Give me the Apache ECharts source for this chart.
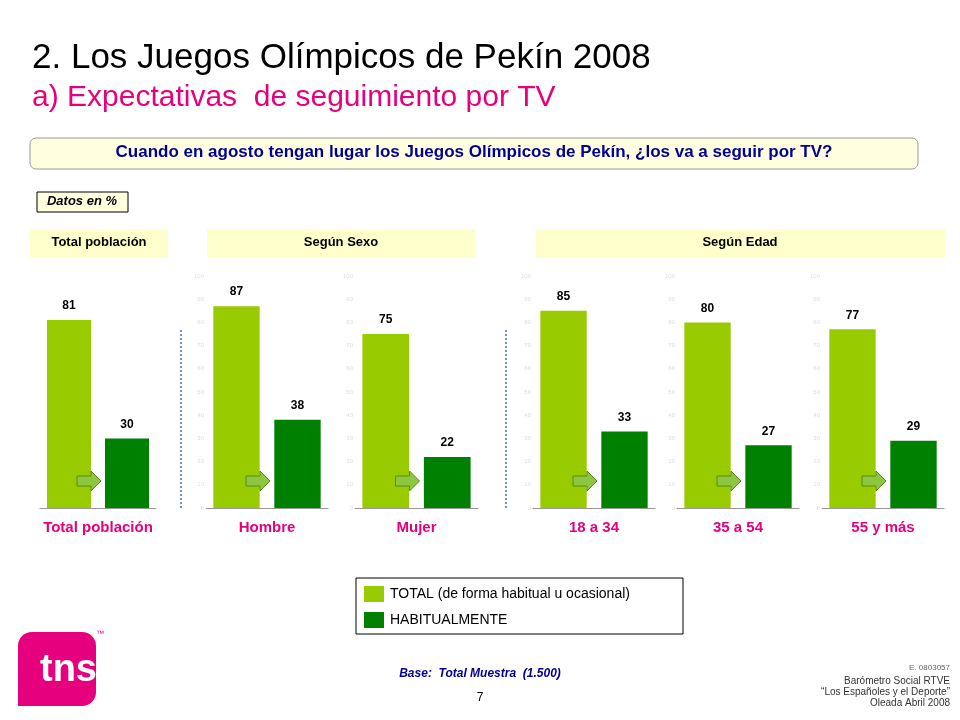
<!DOCTYPE html>
<html><head><meta charset="utf-8">
<script src="https://cdn.jsdelivr.net/npm/echarts@6/dist/echarts.min.js"></script>
<style>html,body{margin:0;background:#fff}#main{width:960px;height:720px}</style>
</head><body><div id="main"></div>
<script>
var groups = ['Total población', 'Hombre', 'Mujer', '18 a 34', '35 a 54', '55 y más'];
var totalValues = [81, 87, 75, 85, 80, 77];
var habitualValues = [30, 38, 22, 33, 27, 29];
var seriesNames = ['TOTAL (de forma habitual u ocasional)', 'HABITUALMENTE'];

var dom = document.getElementById('main');
var myChart = echarts.init(dom, null, { renderer: 'canvas' });

const colors = ['#99CC00', '#008000'];
const pink = '#E6007E';
var lefts = [40, 206, 355, 533, 677, 822];
var widths = [116, 122, 123, 122, 122, 122];

var grids = [], xAxes = [], yAxes = [], series = [], graphics = [];
groups.forEach(function (g, i) {
  grids.push({ left: lefts[i], width: widths[i], top: 276, height: 232 });
  xAxes.push({
    type: 'category', gridIndex: i, data: seriesNames,
    axisLine: { lineStyle: { color: '#999' } }, axisTick: { show: false }, axisLabel: { show: false }
  });
  yAxes.push({
    type: 'value', gridIndex: i, min: 0, max: 100, interval: 10,
    splitLine: { show: false }, axisLine: { show: false }, axisTick: { show: false },
    axisLabel: { show: i > 0, fontSize: 6, color: '#ddd', margin: 2 }
  });
  series.push({
    type: 'bar', xAxisIndex: i, yAxisIndex: i, barWidth: '76%',
    data: [
      { value: totalValues[i], itemStyle: { color: colors[0] } },
      { value: habitualValues[i], itemStyle: { color: colors[1] } }
    ],
    label: { show: true, position: 'top', fontSize: 12, fontWeight: 'bold', color: '#000', fontFamily: 'Arial', distance: 8 }
  });
  graphics.push({ type: 'text', x: lefts[i] + widths[i] / 2, y: 520,
    style: { text: g, align: 'center', fill: pink, font: 'bold 15px Arial' } });
  // arrow
  var ax = lefts[i] + widths[i] / 2 - 21, ay = 481;
  graphics.push({ type: 'polygon', z: 100, shape: { points: [[ax, ay - 5], [ax + 14, ay - 5], [ax + 14, ay - 10], [ax + 24, ay], [ax + 14, ay + 10], [ax + 14, ay + 5], [ax, ay + 5]] },
    style: { fill: '#8DC63F', stroke: '#5a8a20', lineWidth: 1 } });
});

graphics.push(
  { type: 'text', x: 32, y: 41, style: { text: '2. Los Juegos Olímpicos de Pekín 2008', fill: '#000', font: '35px Arial' } },
  { type: 'text', x: 32, y: 83, style: { text: 'a) Expectativas  de seguimiento por TV', fill: pink, font: '30px Arial' } },
  { type: 'rect', shape: { x: 30, y: 138, width: 888, height: 31, r: 6 }, style: { fill: '#FFFFE0', stroke: '#999', lineWidth: 1 } },
  { type: 'text', x: 474, y: 144, style: { text: 'Cuando en agosto tengan lugar los Juegos Olímpicos de Pekín, ¿los va a seguir por TV?', align: 'center', fill: '#000099', font: 'bold 17px Arial' } },
  { type: 'rect', shape: { x: 37, y: 192, width: 91, height: 20 }, style: { fill: '#FFFFE0', stroke: '#000', lineWidth: 1 } },
  { type: 'text', x: 82, y: 195, style: { text: 'Datos en %', align: 'center', fill: '#000', font: 'italic bold 13px Arial' } },
  { type: 'rect', shape: { x: 30, y: 229, width: 138, height: 29 }, style: { fill: '#FFFFCC' } },
  { type: 'text', x: 99, y: 236, style: { text: 'Total población', align: 'center', fill: '#000', font: 'bold 13px Arial' } },
  { type: 'rect', shape: { x: 207, y: 229, width: 268, height: 29 }, style: { fill: '#FFFFCC' } },
  { type: 'text', x: 341, y: 236, style: { text: 'Según Sexo', align: 'center', fill: '#000', font: 'bold 13px Arial' } },
  { type: 'rect', shape: { x: 536, y: 229, width: 409, height: 29 }, style: { fill: '#FFFFCC' } },
  { type: 'text', x: 740, y: 236, style: { text: 'Según Edad', align: 'center', fill: '#000', font: 'bold 13px Arial' } },
  { type: 'line', shape: { x1: 181, y1: 330, x2: 181, y2: 508 }, style: { stroke: '#4A6FB5', lineWidth: 1.5, lineDash: [2, 2] } },
  { type: 'line', shape: { x1: 506, y1: 330, x2: 506, y2: 508 }, style: { stroke: '#4A6FB5', lineWidth: 1.5, lineDash: [2, 2] } },
  { type: 'rect', shape: { x: 356, y: 578, width: 327, height: 56 }, style: { fill: '#fff', stroke: '#000', lineWidth: 1 } },
  { type: 'rect', shape: { x: 364, y: 586, width: 20, height: 16 }, style: { fill: colors[0] } },
  { type: 'text', x: 390, y: 587, style: { text: seriesNames[0], fill: '#000', font: '14px Arial' } },
  { type: 'rect', shape: { x: 364, y: 612, width: 20, height: 16 }, style: { fill: colors[1] } },
  { type: 'text', x: 390, y: 613, style: { text: seriesNames[1], fill: '#000', font: '14px Arial' } },
  { type: 'rect', shape: { x: 18, y: 632, width: 78, height: 74, r: [14, 14, 14, 0] }, style: { fill: pink } },
  { type: 'text', x: 40, y: 652, style: { text: 'tns', fill: '#fff', font: 'bold 38px Arial' } },
  { type: 'text', x: 96, y: 630, style: { text: '™', fill: pink, font: '8px Arial' } },
  { type: 'text', x: 480, y: 668, style: { text: 'Base:  Total Muestra  (1.500)', align: 'center', fill: '#000099', font: 'italic bold 12px Arial' } },
  { type: 'text', x: 480, y: 692, style: { text: '7', align: 'center', fill: '#000', font: '12px Arial' } },
  { type: 'text', x: 950, y: 664, style: { text: 'E. 0803057', align: 'right', fill: '#666', font: '8px Arial' } },
  { type: 'text', x: 950, y: 676, style: { text: 'Barómetro Social RTVE\n“Los Españoles y el Deporte”\nOleada Abril 2008', align: 'right', fill: '#333', font: '10px Arial', lineHeight: 11 } }
);

var option = {
  animation: false,
  grid: grids, xAxis: xAxes, yAxis: yAxes, series: series,
  graphic: graphics
};
myChart.setOption(option);
window.addEventListener('resize', myChart.resize);
</script></body></html>
